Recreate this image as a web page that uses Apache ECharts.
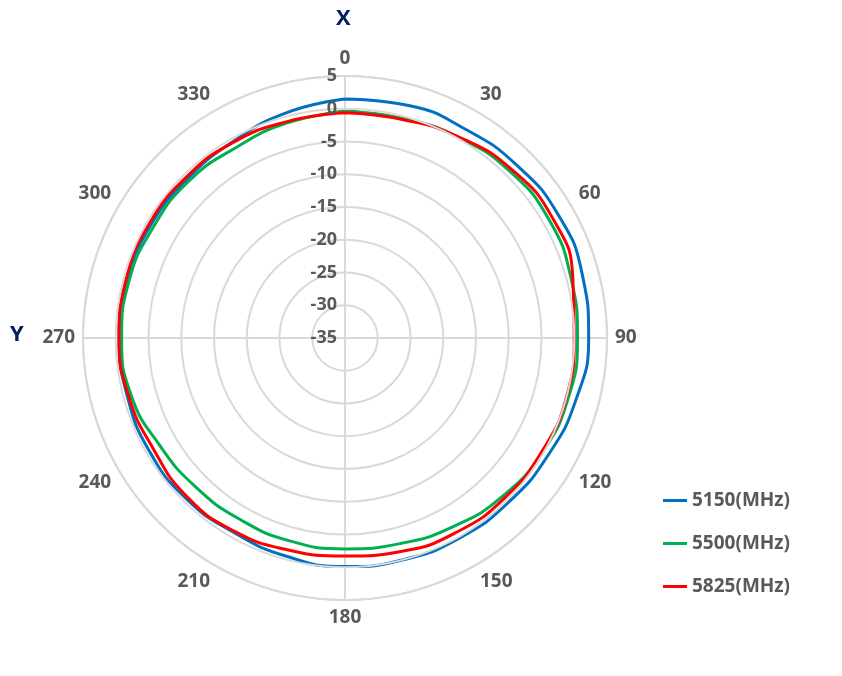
<!DOCTYPE html>
<html><head><meta charset="utf-8">
<script src="https://cdn.jsdelivr.net/npm/echarts@6/dist/echarts.min.js"></script>
</head><body style="margin:0">
<div id="c" style="width:842px;height:676px"></div>
<script>
const angles = [0,15,30,45,60,75,90,105,120,135,150,165,180,195,210,225,240,255,270,285,300,315,330,345,360];
const s5150 = [1.5,1.8,1.8,2.2,2.6,2.5,2.2,1.5,0.8,0.4,0.2,0.0,-0.1,-0.5,-0.8,-0.5,-0.5,-0.6,-0.5,-0.6,-0.7,-0.8,-0.5,0.5,1.5];
const s5500 = [-0.4,-0.3,0.2,0.8,1.0,0.7,0.5,0.3,-0.2,-0.9,-1.8,-2.5,-2.8,-2.9,-3.0,-2.8,-2.3,-1.2,-0.9,-0.9,-1.2,-1.2,-1.5,-1.0,-0.4];
const s5825 = [-0.6,-0.5,0.3,1.2,1.6,1.0,0.0,0.0,-0.3,-0.5,-0.8,-1.3,-1.7,-1.5,-1.0,-0.8,-1.2,-0.8,-0.5,-0.4,-0.4,-0.5,-0.6,-0.8,-0.6];
const names = ['5150(MHz)','5500(MHz)','5825(MHz)'];
const colors = ['#0070C0','#00B050','#FF0000'];
const lab = {color:'#595959',fontWeight:'bold',fontSize:19,fontFamily:'Open Sans'};
const gl = {lineStyle:{color:'#d9d9d9',width:2}};
const mk = d => angles.map((a,i)=>[d[i],a]);
const chart = echarts.init(document.getElementById('c'));
chart.setOption({
  polar:[{center:[345,338],radius:262},{center:[345,338],radius:262}],
  angleAxis:[
    {polarIndex:0,type:'value',min:0,max:360,interval:30,startAngle:90,clockwise:true,
     axisLine:{show:true,lineStyle:{color:'#d9d9d9',width:2}},axisTick:{show:false},
     axisLabel:Object.assign({margin:8,formatter:v=>v===360?'':v},lab),splitLine:{show:false}},
    {polarIndex:1,type:'value',min:0,max:360,interval:90,startAngle:90,clockwise:true,
     axisLine:{show:false},axisTick:{show:false},axisLabel:{show:false},splitLine:Object.assign({show:true},gl)}
  ],
  radiusAxis:[
    {polarIndex:0,type:'value',min:-35,max:5,interval:5,axisLine:{show:false},axisTick:{show:false},
     axisLabel:Object.assign({},lab,{fontSize:18}),splitLine:Object.assign({show:true},gl),z:10},
    {polarIndex:1,type:'value',min:-35,max:5,interval:5,axisLine:{show:false},axisTick:{show:false},axisLabel:{show:false},splitLine:{show:false}}
  ],
  legend:{orient:'vertical',left:658,top:486,itemGap:24,itemWidth:24,icon:'rect',itemHeight:3,
    textStyle:{color:'#595959',fontWeight:'bold',fontSize:19,fontFamily:'Open Sans'},data:names},
  graphic:[
    {type:'text',left:336,top:8,style:{text:'X',fill:'#002060',font:'bold 22px Open Sans'}},
    {type:'text',left:10,top:324,style:{text:'Y',fill:'#002060',font:'bold 22px Open Sans'}}
  ],
  series:[0,1,2].map(i=>({type:'line',coordinateSystem:'polar',polarIndex:0,name:names[i],
    data:mk([s5150,s5500,s5825][i]),smooth:true,symbol:'none',
    lineStyle:{color:colors[i],width:3},itemStyle:{color:colors[i]}}))
});
</script></body></html>
